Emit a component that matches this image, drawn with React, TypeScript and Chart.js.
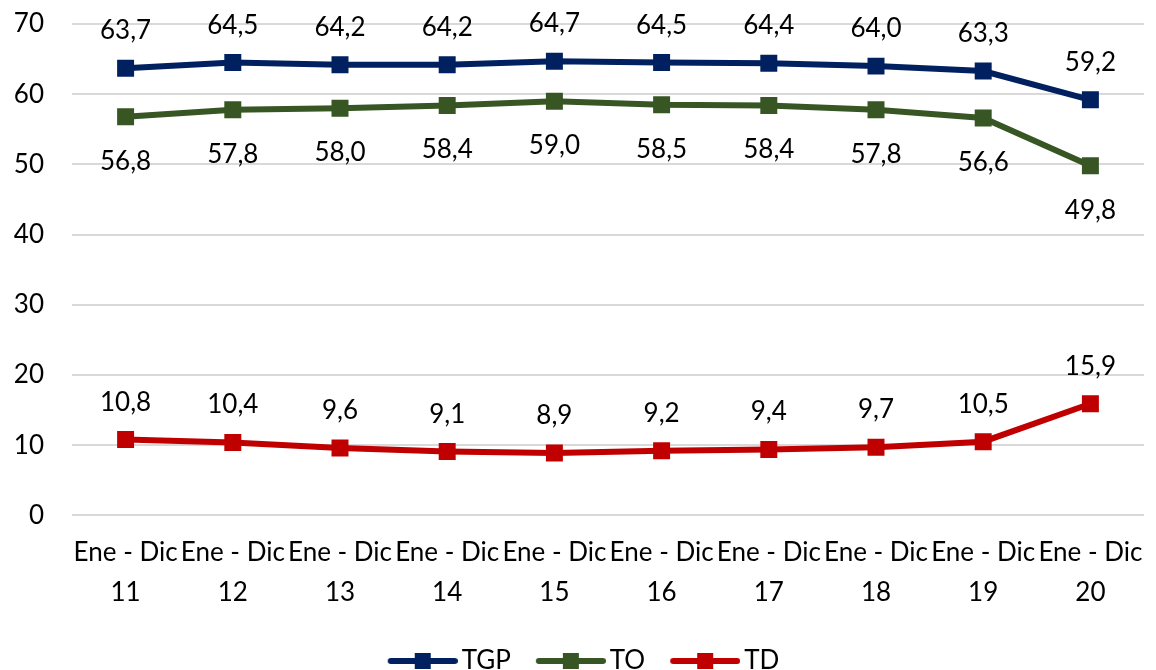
import React, { useEffect, useRef } from "react";
import { Chart, registerables } from "chart.js";

Chart.register(...registerables);

const categories: string[][] = [
  ["Ene - Dic", "11"], ["Ene - Dic", "12"], ["Ene - Dic", "13"], ["Ene - Dic", "14"], ["Ene - Dic", "15"],
  ["Ene - Dic", "16"], ["Ene - Dic", "17"], ["Ene - Dic", "18"], ["Ene - Dic", "19"], ["Ene - Dic", "20"],
];
const tgp = [63.7, 64.5, 64.2, 64.2, 64.7, 64.5, 64.4, 64.0, 63.3, 59.2];
const to = [56.8, 57.8, 58.0, 58.4, 59.0, 58.5, 58.4, 57.8, 56.6, 49.8];
const td = [10.8, 10.4, 9.6, 9.1, 8.9, 9.2, 9.4, 9.7, 10.5, 15.9];
const seriesNames = ["TGP", "TO", "TD"];
const colors = ["#002060", "#375623", "#C00000"];
const labelPositions = ["above", "below", "above"];

const FONT = "Lato, 'Noto Sans', sans-serif";
const FS = 26;

// legend symbol: line with a square marker, drawn inside a slightly wider transparent image
function legendImage(color: string): HTMLCanvasElement {
  const c = document.createElement("canvas");
  c.width = 78;
  c.height = 18;
  const ctx = c.getContext("2d")!;
  ctx.strokeStyle = color;
  ctx.lineWidth = 6;
  ctx.lineCap = "round";
  ctx.beginPath();
  ctx.moveTo(11, 9);
  ctx.lineTo(75, 9);
  ctx.stroke();
  ctx.fillStyle = color;
  ctx.fillRect(35, 1, 16, 16);
  return c;
}

const dataLabelPlugin = {
  id: "dataLabels",
  afterDatasetsDraw(chart: any) {
    const ctx = chart.ctx;
    ctx.save();
    ctx.font = `${FS}px ${FONT}`;
    ctx.fillStyle = "#000";
    ctx.textAlign = "center";
    ctx.textBaseline = "alphabetic";
    chart.data.datasets.forEach((ds: any, i: number) => {
      const meta = chart.getDatasetMeta(i);
      meta.data.forEach((pt: any, j: number) => {
        const v = ds.data[j] as number;
        const txt = v.toFixed(1).replace(".", ",");
        const dy = labelPositions[i] === "above" ? -38 : 44;
        ctx.fillText(txt, pt.x, pt.y + dy + 9);
      });
    });
    ctx.restore();
  },
};

export default function App() {
  const ref = useRef<HTMLCanvasElement>(null);
  useEffect(() => {
    document.body.style.margin = "0";
    document.body.style.overflow = "hidden";
    const values = [tgp, to, td];
    const chart = new Chart(ref.current!, {
      type: "line",
      data: {
        labels: categories,
        datasets: values.map((d, i) => ({
          label: seriesNames[i],
          data: d,
          borderColor: colors[i],
          backgroundColor: colors[i],
          borderWidth: 6,
          pointStyle: "rect",
          pointRadius: 12,
          pointHoverRadius: 12,
          pointBorderWidth: 0,
          tension: 0,
          fill: false,
        })),
      },
      options: {
        animation: false,
        responsive: true,
        maintainAspectRatio: false,
        layout: { padding: { top: 24, right: 2, left: 14, bottom: -14 } },
        scales: {
          x: {
            offset: true,
            grid: { display: false },
            border: { display: false },
            afterFit: (scale: any) => {
              scale.paddingLeft = 0;
              scale.paddingRight = 0;
            },
            ticks: {
              color: "#000",
              font: { size: FS, family: FONT, lineHeight: 1.55 },
              maxRotation: 0,
              autoSkip: false,
              padding: 9,
            },
          },
          y: {
            min: 0,
            max: 70,
            grid: { color: "#d9d9d9", lineWidth: 2, drawTicks: false },
            border: { display: false },
            afterFit: (scale: any) => {
              scale.width = 58;
              scale.paddingTop = 0;
              scale.paddingBottom = 0;
            },
            ticks: {
              stepSize: 10,
              color: "#000",
              font: { size: FS, family: FONT },
              padding: 28,
            },
          },
        },
        plugins: {
          tooltip: { enabled: false },
          legend: {
            position: "bottom",
            labels: {
              color: "#000",
              font: { size: FS, family: FONT },
              usePointStyle: true,
              pointStyleWidth: 60,
              padding: 26,
              generateLabels: (ch: any) =>
                ch.data.datasets.map((ds: any, i: number) => ({
                  text: ds.label,
                  pointStyle: legendImage(colors[i]),
                  fillStyle: colors[i],
                  strokeStyle: colors[i],
                  lineWidth: 0,
                  hidden: false,
                  datasetIndex: i,
                  fontColor: "#000",
                })),
            },
          },
        },
      },
      plugins: [dataLabelPlugin],
    });
    return () => chart.destroy();
  }, []);
  return (
    <div style={{ width: 1156, height: 670, position: "relative", overflow: "hidden" }}>
      <canvas ref={ref} style={{ display: "block" }} />
    </div>
  );
}
